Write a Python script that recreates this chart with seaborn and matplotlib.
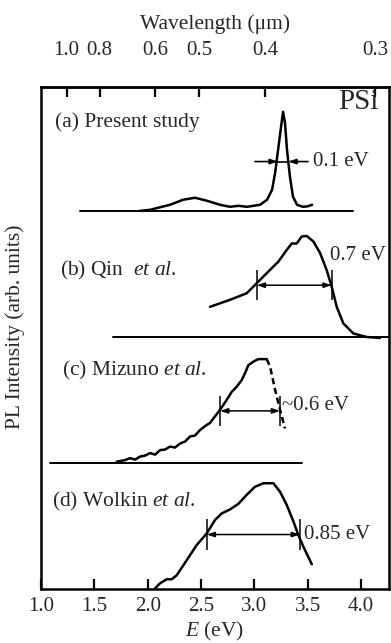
import numpy as np
import pandas as pd
import seaborn as sns
import matplotlib.pyplot as plt

# (a) present study
e_a = [1.928, 2.022, 2.115, 2.209, 2.331, 2.444, 2.556, 2.678, 2.772, 2.850, 2.931, 3.053, 3.119,
       3.166, 3.194, 3.222, 3.250, 3.269, 3.287, 3.306, 3.334, 3.362, 3.400, 3.456, 3.500, 3.541]
i_a = [75.3, 75.5, 76.0, 76.5, 77.5, 77.9, 77.3, 76.5, 76.1, 76.3, 76.1, 76.5, 77.5,
       79.5, 82.8, 87.4, 92.0, 95.0, 92.8, 87.4, 82.0, 78.1, 76.5, 76.1, 76.2, 76.5]

# (b) Qin et al.
e_b = [2.584, 2.678, 2.772, 2.928, 3.022, 3.116, 3.225, 3.303, 3.350, 3.397, 3.444,
       3.491, 3.553, 3.616, 3.678, 3.725, 3.772, 3.834, 3.928, 4.053, 4.178]
i_b = [56.2, 56.9, 57.6, 58.9, 60.9, 62.9, 65.2, 67.5, 68.8, 68.8, 70.2,
       70.3, 69.2, 66.9, 63.5, 60.2, 56.2, 52.9, 50.9, 50.2, 50.0]

# (c) Mizuno et al. (measured part, then dashed extrapolation)
e_c = [1.710, 1.787, 1.834, 1.881, 1.928, 1.975, 2.022, 2.069, 2.116, 2.162, 2.209, 2.256, 2.303,
       2.350, 2.397, 2.444, 2.491, 2.553, 2.584, 2.616, 2.678, 2.741, 2.788, 2.834, 2.881,
       2.912, 2.944, 2.991, 3.037, 3.116]
i_c = [25.4, 25.7, 26.1, 25.8, 26.4, 26.6, 27.1, 26.8, 27.7, 27.8, 28.4, 28.2, 29.0,
       29.4, 30.4, 30.6, 31.7, 32.7, 33.1, 34.0, 35.7, 37.7, 39.3, 40.3, 41.6,
       43.0, 44.6, 45.3, 45.8, 45.8]
e_c_dash = [3.116, 3.147, 3.194, 3.241, 3.287]
i_c_dash = [45.8, 44.3, 39.7, 35.7, 32.0]

# (d) Wolkin et al.
e_d = [2.069, 2.116, 2.178, 2.225, 2.272, 2.366, 2.459, 2.553, 2.631, 2.694, 2.772,
       2.850, 2.928, 3.006, 3.084, 3.178, 3.241, 3.303, 3.366, 3.412, 3.459, 3.538]
i_d = [0.2, 1.2, 2.0, 2.0, 2.8, 5.8, 8.8, 11.1, 13.8, 15.1, 15.9,
       17.0, 18.8, 20.4, 21.1, 21.1, 19.4, 16.8, 13.5, 10.8, 8.5, 5.0]

# zero lines of the offset spectra (a), (b), (c)
base_start = [1.366, 1.675, 1.084]
base_end = [3.925, 4.262, 3.447]
base_level = [75.3, 50.2, 25.2]

# FWHM markers
a_out = [3.006, 3.503]
a_in = [3.222, 3.316]
a_level = 85.1
fwhm_lo = [3.022, 2.678, 2.553]
fwhm_hi = [3.725, 3.241, 3.428]
fwhm_level = [60.5, 35.5, 10.9]

energy_ticks = [1.0, 1.5, 2.0, 2.5, 3.0, 3.5, 4.0]
wavelength_ticks = [1.0, 0.8, 0.6, 0.5, 0.4, 0.3]

sns.set_style('ticks')
plt.rcParams['font.family'] = ['Liberation Serif', 'DejaVu Serif']
plt.rcParams['mathtext.fontset'] = 'custom'
plt.rcParams['mathtext.rm'] = 'Liberation Serif'
plt.rcParams['mathtext.it'] = 'Liberation Serif:italic'

fig = plt.figure(figsize=(3.91, 6.43), dpi=100)
ax = fig.add_axes([0.1049, 0.0835, 0.8900, 0.7817])

lw = 1.8
for e, i in [(e_a, i_a), (e_b, i_b), (e_c, i_c), (e_d, i_d)]:
    df = pd.DataFrame({'E': e, 'I': i})
    sns.lineplot(data=df, x='E', y='I', ax=ax, color='black', lw=lw, sort=False, estimator=None)
df = pd.DataFrame({'E': e_c_dash, 'I': i_c_dash})
sns.lineplot(data=df, x='E', y='I', ax=ax, color='black', lw=lw, sort=False, estimator=None, linestyle=(0, (2.5, 1.5)))

for s, t, b in zip(base_start, base_end, base_level):
    ax.plot([s, t], [b, b], color='black', lw=1.4)

# (a) arrows pointing in towards the peak
ax.plot([a_in[0], a_in[1]], [a_level, a_level], color='black', lw=1.2)
for o, n in zip(a_out, a_in):
    ax.annotate('', xy=(n, a_level), xytext=(o, a_level),
                arrowprops=dict(arrowstyle='-|>,head_length=0.45,head_width=0.15', color='black',
                                lw=1.2, shrinkA=0, shrinkB=0))

# (b)-(d) double arrows between vertical bars
for lo, hi, lev in zip(fwhm_lo, fwhm_hi, fwhm_level):
    ax.vlines([lo, hi], lev - 3.0, lev + 3.0, color='black', lw=1.1)
    ax.annotate('', xy=(hi, lev), xytext=(lo, lev),
                arrowprops=dict(arrowstyle='<|-|>,head_length=0.45,head_width=0.15', color='black',
                                lw=1.1, shrinkA=0, shrinkB=0))

fs = 15.5
ax.text(1.131, 93.0, '(a) Present study', fontsize=fs, va='center', ha='left')
ax.text(1.178, 63.5, r'(b) Qin  $\mathit{et\ al.}$', fontsize=fs, va='center', ha='left')
ax.text(1.197, 43.6, r'(c) Mizuno $\mathit{et\ al.}$', fontsize=fs, va='center', ha='left')
ax.text(1.103, 17.4, r'(d) Wolkin $\mathit{et\ al.}$', fontsize=fs, va='center', ha='left')
ax.text(4.165, 97.0, 'PSi', fontsize=21, va='center', ha='right')
ax.text(3.55, 85.1, '0.1 eV', fontsize=15, va='center', ha='left')
ax.text(3.709, 66.5, '0.7 eV', fontsize=15, va='center', ha='left')
ax.text(3.262, 36.5, '~0.6 eV', fontsize=15, va='center', ha='left')
ax.text(3.462, 10.9, '0.85 eV', fontsize=15, va='center', ha='left')

ax.set_xlim(1.0, 4.262)
ax.set_ylim(0, 100)
ax.set_xticks(energy_ticks)
ax.set_xticklabels([f'{t:.1f}' for t in energy_ticks])
ax.set_yticks([])
ax.set_xlabel(r'$E$ (eV)', fontsize=15.5, labelpad=3)
ax.set_ylabel('PL Intensity (arb. units)', fontsize=15.5)
ax.yaxis.set_label_coords(-0.046, 0.522)
for sp in ax.spines.values():
    sp.set_linewidth(1.8)
    sp.set_color('black')


def ev_to_um(e):
    e = np.asarray(e, dtype=float)
    with np.errstate(divide='ignore'):
        return 1.2398 / e


top = ax.secondary_xaxis('top', functions=(ev_to_um, ev_to_um))
top.set_xticks(wavelength_ticks)
top.set_xticklabels([f'{w:.1f}' for w in wavelength_ticks])
top.set_xlabel('Wavelength (\u03bcm)', fontsize=15.5, labelpad=9)
top.spines['top'].set_linewidth(1.8)

# inward ticks on both energy and wavelength scales
ax.tick_params(axis='x', which='major', direction='in', length=7, width=1.6,
               color='black', labelsize=15, pad=5.5)
top.tick_params(axis='x', which='major', direction='in', length=7, width=1.6,
                color='black', labelsize=15, pad=19)

fig.savefig('out.png', dpi=100)
